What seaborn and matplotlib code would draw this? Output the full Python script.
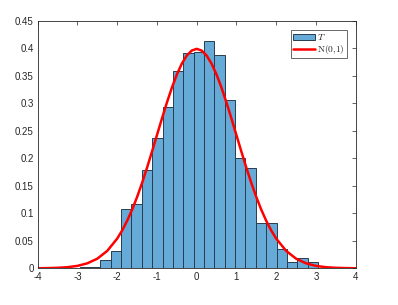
import numpy as np
import pandas as pd
import matplotlib
matplotlib.use('Agg')
import matplotlib.pyplot as plt
from matplotlib.patches import Patch
from matplotlib.lines import Line2D
import seaborn as sns

# histogram (pdf normalised)
bin_start = -2.944
bin_width = 0.2607
heights = [0.003, 0.003, 0.015, 0.031, 0.108, 0.117, 0.178, 0.236, 0.294, 0.359, 0.391, 0.393,
           0.413, 0.387, 0.306, 0.201, 0.182, 0.082, 0.082, 0.035, 0.011, 0.019, 0.011]

# N(0,1) curve points
curve_x = [-4, -3.75, -3.5, -3.25, -3, -2.75, -2.5, -2.25, -2, -1.875, -1.75, -1.625, -1.5, -1.375,
           -1.25, -1.125, -1, -0.875, -0.75, -0.625, -0.5, -0.375, -0.25, -0.125, 0,
           0.125, 0.25, 0.375, 0.5, 0.625, 0.75, 0.875, 1, 1.125, 1.25, 1.375, 1.5, 1.625, 1.75,
           1.875, 2, 2.25, 2.5, 2.75, 3, 3.25, 3.5, 3.75, 4]
curve_y = [0.0001, 0.0004, 0.0009, 0.002, 0.0044, 0.0091, 0.0175, 0.0317, 0.054, 0.0688, 0.0863,
           0.1065, 0.1295, 0.155, 0.1827, 0.2119, 0.242, 0.2721, 0.3011, 0.3282, 0.3521, 0.3719,
           0.3867, 0.3958, 0.3989,
           0.3958, 0.3867, 0.3719, 0.3521, 0.3282, 0.3011, 0.2721, 0.242, 0.2119, 0.1827, 0.155,
           0.1295, 0.1065, 0.0863, 0.0688, 0.054, 0.0317, 0.0175, 0.0091, 0.0044, 0.002, 0.0009,
           0.0004, 0.0001]

edges = [bin_start + bin_width * k for k in range(len(heights) + 1)]
centers = [(edges[k] + edges[k + 1]) / 2 for k in range(len(heights))]
hist_df = pd.DataFrame({'t': centers, 'w': heights})

sns.set_style('white')
plt.rcParams['font.family'] = ['Liberation Sans', 'DejaVu Sans']
plt.rcParams['mathtext.fontset'] = 'cm'

fig = plt.figure(figsize=(3.98, 3.05), dpi=100)
ax = fig.add_axes([0.0947, 0.1203, 0.799, 0.8117])

bar_col = '#66aad7'
edge_col = '#2a3d4f'
sns.histplot(data=hist_df, x='t', weights='w', bins=edges, stat='count', ax=ax,
             color=bar_col, alpha=1, edgecolor=edge_col, linewidth=0.7)
sns.lineplot(x=curve_x, y=curve_y, ax=ax, color='red', linewidth=1.8)

ax.set_xlim(-4, 4)
ax.set_ylim(0, 0.45)
ax.set_xticks(range(-4, 5))
ax.set_yticks(np.arange(0, 0.46, 0.05))
ax.set_xticklabels([str(i) for i in range(-4, 5)])
ax.set_yticklabels(['0', '0.05', '0.1', '0.15', '0.2', '0.25', '0.3', '0.35', '0.4', '0.45'])
ax.set_xlabel('')
ax.set_ylabel('')
ax.tick_params(direction='in', length=3, width=0.5, colors='#262626', labelsize=7,
               top=True, right=True, pad=3)
for s in ax.spines.values():
    s.set_visible(True)
    s.set_color('#262626')
    s.set_linewidth(0.6)

handles = [Patch(facecolor=bar_col, edgecolor=edge_col, linewidth=0.7),
           Line2D([], [], color='red', linewidth=1.8)]
leg = ax.legend(handles, ['$T$', r'$\mathrm{N}(0{,}1)$'], loc='upper right', fontsize=6.8,
                fancybox=False, frameon=True, edgecolor='#262626', borderaxespad=0.95,
                handlelength=2.3, handleheight=0.6, handletextpad=0.2, borderpad=0.25,
                labelspacing=0.1)
leg.get_frame().set_linewidth(0.6)

fig.savefig('out.png', dpi=100)
